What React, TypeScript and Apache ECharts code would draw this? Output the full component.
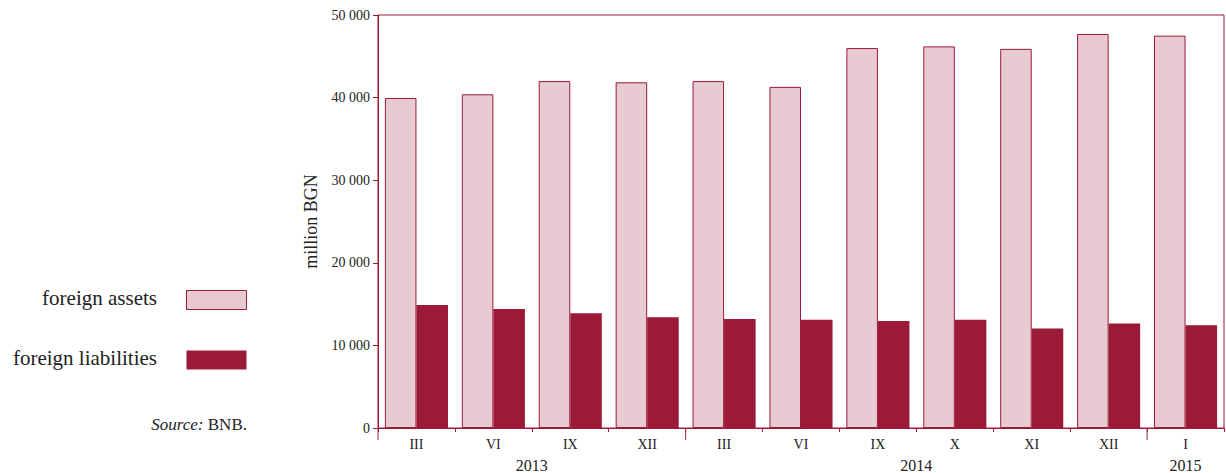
import React, { useEffect, useRef } from "react";
import * as echarts from "echarts";

const months = ["III", "VI", "IX", "XII", "III", "VI", "IX", "X", "XI", "XII", "I"];
const years = ["2013", "2014", "2015"];
const yearSpans = [[0, 3], [4, 9], [10, 10]]; // first and last category index per year
const foreignAssets = [39950, 40400, 42000, 41850, 42000, 41300, 46000, 46200, 45900, 47700, 47500];
const foreignLiabilities = [14900, 14400, 13900, 13400, 13200, 13100, 12950, 13100, 12050, 12650, 12450];
const seriesNames = ["foreign assets", "foreign liabilities"];

const DARK = "#9b1a37";
const LIGHT = "#e8cad3";
const FONT = "Liberation Serif";
const TXT = "#222";

export default function App() {
  const ref = useRef<HTMLDivElement>(null);
  useEffect(() => {
    if (!ref.current) return;
    const chart = echarts.init(ref.current, null, { renderer: "svg" });
    chart.setOption({
      animation: false,
      textStyle: { fontFamily: FONT },
      grid: { left: 378, right: 2, top: 15, bottom: 45, show: true, borderColor: DARK, borderWidth: 1 },
      xAxis: {
        type: "category",
        data: months,
        axisLine: { lineStyle: { color: DARK } },
        axisTick: { show: true, length: 4, lineStyle: { color: DARK } },
        axisLabel: { color: TXT, fontFamily: FONT, fontSize: 14, margin: 9 },
      },
      yAxis: {
        type: "value",
        min: 0,
        max: 50000,
        interval: 10000,
        name: "million BGN",
        nameLocation: "middle",
        nameGap: 58,
        nameTextStyle: { color: TXT, fontFamily: FONT, fontSize: 18 },
        splitLine: { show: false },
        axisLine: { show: true, lineStyle: { color: DARK } },
        axisTick: { show: true, length: 5, lineStyle: { color: DARK } },
        axisLabel: {
          color: TXT,
          fontFamily: FONT,
          fontSize: 14,
          margin: 8,
          formatter: (v: number) => String(v).replace(/\B(?=(\d{3})+(?!\d))/g, " "),
        },
      },
      series: [
        {
          name: seriesNames[0],
          type: "bar",
          data: foreignAssets,
          barGap: "0%",
          barCategoryGap: "18%",
          itemStyle: { color: LIGHT, borderColor: DARK, borderWidth: 1 },
        },
        {
          name: seriesNames[1],
          type: "bar",
          data: foreignLiabilities,
          itemStyle: { color: DARK },
        },
      ],
    });

    const y0 = chart.convertToPixel({ yAxisIndex: 0 }, 0) as number;
    const half = ((chart.convertToPixel({ xAxisIndex: 0 }, 1) as number) - (chart.convertToPixel({ xAxisIndex: 0 }, 0) as number)) / 2;
    const graphics: any[] = [];
    yearSpans.forEach(([a, b], i) => {
      const xa = (chart.convertToPixel({ xAxisIndex: 0 }, a) as number) - half;
      const xb = (chart.convertToPixel({ xAxisIndex: 0 }, b) as number) + half;
      graphics.push({
        type: "line",
        shape: { x1: xa, y1: y0, x2: xa, y2: y0 + 12 },
        style: { stroke: DARK, lineWidth: 1 },
      });
      graphics.push({
        type: "text",
        x: (xa + xb) / 2,
        y: y0 + 37,
        style: { text: years[i], fill: TXT, fontFamily: FONT, fontSize: 16, align: "center", verticalAlign: "middle" },
      });
    });
    // legend
    seriesNames.forEach((n, i) => {
      const cy = 300 + i * 60;
      graphics.push({
        type: "text",
        x: 157,
        y: cy - 2,
        style: { text: n, fill: TXT, fontFamily: FONT, fontSize: 21, align: "right", verticalAlign: "middle" },
      });
      graphics.push({
        type: "rect",
        shape: { x: 186.5, y: cy - 9.5, width: 60, height: 19 },
        style: i === 0 ? { fill: LIGHT, stroke: DARK, lineWidth: 1 } : { fill: DARK },
      });
    });
    graphics.push({
      type: "text",
      x: 247,
      y: 424,
      style: {
        text: "{i|Source:} {n|BNB.}",
        align: "right",
        verticalAlign: "middle",
        rich: {
          i: { fontStyle: "italic", fontFamily: FONT, fontSize: 17, fill: TXT },
          n: { fontFamily: FONT, fontSize: 17, fill: TXT },
        },
        fontFamily: FONT,
        fontSize: 17,
        fill: TXT,
      },
    });
    chart.setOption({ graphic: graphics });

    return () => chart.dispose();
  }, []);
  return <div ref={ref} style={{ position: "absolute", left: 0, top: 0, width: 1226, height: 473 }} />;
}
